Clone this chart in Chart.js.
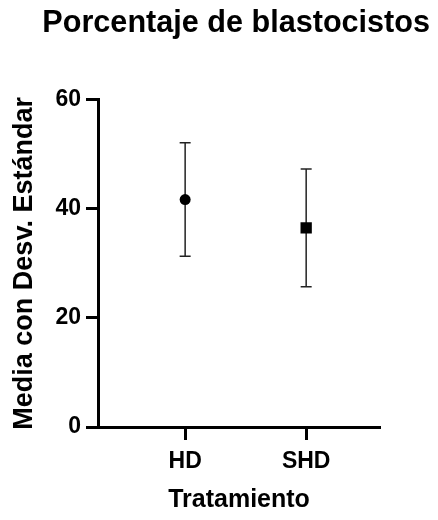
<!DOCTYPE html>
<html>
<head>
<meta charset="utf-8">
<script src="https://cdn.jsdelivr.net/npm/chart.js@4"></script>
<style>
  body { margin: 0; background: #fff; }
  #wrap { width: 438px; height: 520px; }
</style>
</head>
<body>
<div id="wrap"><canvas id="chart" width="438" height="520"></canvas></div>
<script>
// Datos
const categories = ['HD', 'SHD'];
const means = [41.7, 36.5];
const sds = [10.4, 10.8];
const yTicks = [0, 20, 40, 60];

const FONT = '"Liberation Sans", Arial, sans-serif';

// barras de error: una linea vertical por tratamiento, con topes en los extremos
const errorSets = categories.map((c, i) => ({
    label: c + ' DE',
    data: [
        { x: i + 1, y: means[i] - sds[i] },
        { x: i + 1, y: means[i] + sds[i] }
    ],
    showLine: true,
    borderColor: '#222',
    borderWidth: 1.5,
    pointStyle: 'line',
    pointRadius: 5.5,
    pointBorderColor: '#222',
    pointBorderWidth: 1.5,
    order: 2
}));

const meanSet = {
    label: 'Media',
    data: categories.map((c, i) => ({ x: i + 1, y: means[i] })),
    showLine: false,
    pointStyle: ['circle', 'rect'],
    pointRadius: [5.5, 8],
    backgroundColor: '#000',
    borderColor: '#000',
    borderWidth: 0,
    order: 1
};

const ctx = document.getElementById('chart').getContext('2d');
new Chart(ctx, {
    type: 'scatter',
    data: { datasets: [...errorSets, meanSet] },
    options: {
        responsive: false,
        animation: false,
        layout: { padding: { left: 0, right: 8, top: 0, bottom: 0 } },
        plugins: {
            legend: { display: false },
            tooltip: { enabled: false },
            title: {
                display: true,
                text: 'Porcentaje de blastocistos',
                align: 'end',
                color: '#000',
                font: { family: FONT, size: 30.6, weight: 'bold' },
                padding: { top: 5, bottom: 58 }
            }
        },
        scales: {
            x: {
                type: 'linear',
                min: 0.28,
                max: 2.61,
                afterFit: s => { s.height = 93; },
                afterBuildTicks: s => { s.ticks = categories.map((c, i) => ({ value: i + 1 })); },
                ticks: {
                    color: '#000',
                    padding: 8,
                    font: { family: FONT, size: 23, weight: 'bold' },
                    callback: v => categories[v - 1]
                },
                grid: { drawOnChartArea: false, drawTicks: true, tickLength: 13, tickWidth: 3, tickColor: '#000' },
                border: { display: true, color: '#000', width: 3 },
                title: {
                    display: true,
                    text: 'Tratamiento',
                    color: '#000',
                    font: { family: FONT, size: 25, weight: 'bold' },
                    padding: { top: 0, bottom: 5 }
                }
            },
            y: {
                min: 0,
                max: 60,
                afterFit: s => { s.width = 98; },
                afterBuildTicks: s => { s.ticks = yTicks.map(v => ({ value: v })); },
                ticks: {
                    color: '#000',
                    padding: 5,
                    font: { family: FONT, size: 23, weight: 'bold' }
                },
                grid: { drawOnChartArea: false, drawTicks: true, tickLength: 12, tickWidth: 3, tickColor: '#000' },
                border: { display: true, color: '#000', width: 3 },
                title: {
                    display: true,
                    text: 'Media con Desv. Estándar',
                    color: '#000',
                    font: { family: FONT, size: 27, weight: 'bold' },
                    padding: { top: 8, bottom: 0 }
                }
            },
            // eje vacio a la derecha, solo reserva el margen
            yR: {
                position: 'right',
                display: true,
                afterFit: s => { s.width = 50; },
                ticks: { display: false },
                grid: { display: false },
                border: { display: false }
            }
        }
    }
});
</script>
</body>
</html>
